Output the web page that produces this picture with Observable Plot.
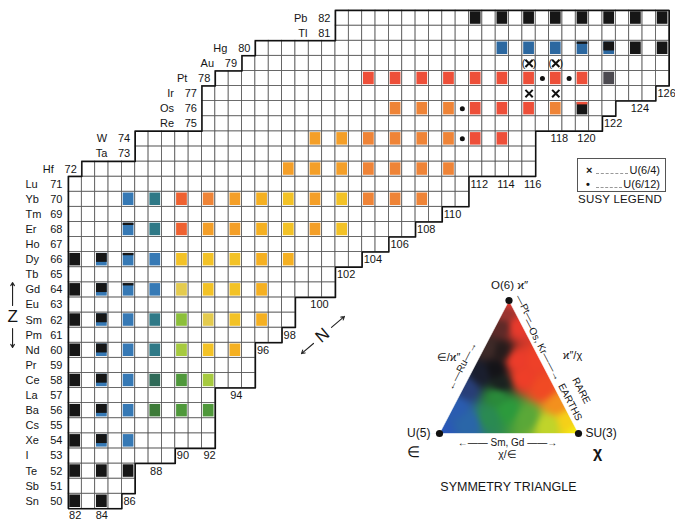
<!DOCTYPE html>
<html><head><meta charset="utf-8">
<script src="https://cdn.jsdelivr.net/npm/d3@7"></script>
<script src="https://cdn.jsdelivr.net/npm/@observablehq/plot@0.6"></script>
<style>
body{margin:0;background:#fff;font-family:"Liberation Sans",Arial,sans-serif;color:#151515;}
#wrap{position:relative;width:675px;height:521px;overflow:hidden;background:#fff;}
#wrap svg{position:absolute;}
.legend{position:absolute;left:577px;top:158px;width:89px;height:34px;border:1px solid #555;box-sizing:border-box;font-size:11px;padding:5px 5px 0 8px;line-height:13.5px;}
.lrow{display:flex;align-items:baseline;}
.lsym{font-weight:bold;width:7px;}
.lead{flex:1;border-bottom:1px dashed #999;margin:0 1px 0 3px;height:7px;}
.ltitle{position:absolute;left:560px;top:193px;width:120px;text-align:center;font-size:11.5px;letter-spacing:0.2px;}
</style>
</head><body><div id="wrap"></div>
<script>
// ---- data ----
const protonNumbers = [50,51,52,53,54,55,56,57,58,59,60,61,62,63,64,65,66,67,68,69,70,71,72,73,74,75,76,77,78,79,80,81,82];
const elementSymbols = ["Sn","Sb","Te","I","Xe","Cs","Ba","La","Ce","Pr","Nd","Pm","Sm","Eu","Gd","Tb","Dy","Ho","Er","Tm","Yb","Lu","Hf","Ta","W","Re","Os","Ir","Pt","Au","Hg","Tl","Pb"];
const rowFirstN = [82,82,82,82,82,82,82,82,82,82,82,82,82,82,82,82,82,82,82,82,82,82,83,87,87,92,92,92,93,95,96,102,102];
const rowLastN  = [85,86,86,89,92,92,92,92,95,95,95,97,98,98,101,101,103,105,107,109,111,111,116,116,116,121,122,125,126,126,126,126,126];
const stepLabelsN = [86,88,90,92,94,96,98,100,102,104,106,108,110,112,114,116,118,120,122,124,126];
const stepLabelsZ = [50,52,53,53,57,60,61,63,65,66,67,68,69,71,71,71,74,74,75,76,77];
const bottomLabelsN = [82,84];
// [Z, N, symmetry class]
const evenEvenCells = [
 [50,82,"k"],[50,84,"k"],
 [52,82,"k"],[52,84,"k"],[52,86,"k"],
 [54,82,"k"],[54,84,"kb"],[54,86,"B"],
 [56,82,"k"],[56,84,"kb"],[56,86,"B"],[56,88,"G"],[56,90,"g"],[56,92,"g"],
 [58,82,"k"],[58,84,"kb"],[58,86,"B"],[58,88,"Tg"],[58,90,"g"],[58,92,"L"],
 [60,82,"k"],[60,84,"kb"],[60,86,"B"],[60,88,"T"],[60,90,"L"],[60,92,"Y"],[60,94,"y"],
 [62,82,"k"],[62,84,"kb"],[62,86,"B"],[62,88,"T"],[62,90,"Lg"],[62,92,"Yp"],[62,94,"Y"],[62,96,"y"],
 [64,82,"k"],[64,84,"kb"],[64,86,"bk"],[64,88,"B"],[64,90,"Yp"],[64,92,"Y"],[64,94,"Y"],[64,96,"y"],
 [66,82,"k"],[66,84,"kb"],[66,86,"bk"],[66,88,"B"],[66,90,"Y"],[66,92,"Y"],[66,94,"Y"],[66,96,"y"],[66,98,"y"],
 [68,86,"bk"],[68,88,"T"],[68,90,"r"],[68,92,"O"],[68,94,"O"],[68,96,"y"],[68,98,"Y"],[68,100,"O"],[68,102,"Y"],
 [70,86,"B"],[70,88,"T"],[70,90,"r"],[70,92,"o"],[70,94,"O"],[70,96,"y"],[70,98,"Y"],[70,100,"O"],[70,102,"Y"],[70,104,"o"],[70,106,"o"],[70,108,"o"],
 [72,98,"O"],[72,100,"O"],[72,102,"O"],[72,104,"o"],[72,106,"o"],[72,108,"o"],[72,110,"o"],
 [74,100,"O"],[74,102,"O"],[74,104,"o"],[74,106,"o"],[74,108,"o"],[74,110,"o"],[74,112,"R"],[74,114,"R"],
 [76,106,"o"],[76,108,"o"],[76,110,"o"],[76,112,"R"],[76,114,"R"],[76,116,"R"],[76,118,"o"],[76,120,"rk"],
 [78,104,"R"],[78,106,"R"],[78,108,"R"],[78,110,"R"],[78,112,"R"],[78,114,"R"],[78,116,"R"],[78,118,"R"],[78,120,"R"],[78,122,"D"],
 [80,114,"Bd"],[80,116,"Bd"],[80,118,"Bd"],[80,120,"Bk"],[80,122,"kB"],[80,124,"k"],[80,126,"k"],
 [82,112,"k"],[82,114,"k"],[82,116,"k"],[82,118,"k"],[82,120,"k"],[82,122,"k"],[82,124,"k"],[82,126,"k"]
];
const susyDots = [[76,111],[74,111],[78,117],[78,119]];            // U(6/12)
const susyCrosses = [[77,116],[77,118]];                              // U(6/4)
const susyCrossesParen = [[79,116],[79,118]];
const susyLegend = [{symbol:"×", label:"U(6/4)"},{symbol:"•", label:"U(6/12)"}];

// ---- styles ----
const FONT = "'Liberation Sans', Arial, sans-serif";
const palette = {k:"#161616",B:"#3679b5",Bd:"#2c68a0",T:"#2f7987",Tg:"#2f6a58",G:"#3d7b38",g:"#4f983b",
  L:"#a6ca3f",Lg:"#8cbf3a",Yp:"#e4cb4e",Y:"#f3c226",y:"#f5b021",O:"#f49f28",o:"#ef8437",r:"#ef6130",
  R:"#ee4f39",D:"#4c4a50"};
const splitClasses = {kb:["B","k",0.68], bk:["B","k",0.24], Bk:["Bd","k",0.24], kB:["Bd","k",0.68], rk:["k","R",0.25]};

// ---- derived ----
const rows = protonNumbers.map((z,i)=>({z, sym:elementSymbols[i], first:rowFirstN[i], last:rowLastN[i]}));
const gridCells = rows.flatMap(r => d3.range(r.first, r.last+1).map(n => ({z:r.z, n})));
const outline = [];
rows.forEach(r => { outline.push([r.first, r.z], [r.first, r.z+1]); });
rows.slice().reverse().forEach(r => { outline.push([r.last+1, r.z+1], [r.last+1, r.z]); });
outline.push(outline[0]);
const cells = evenEvenCells.map(([z,n,c]) => ({z,n,c}));
const solid = cells.map(d => ({...d, color: palette[splitClasses[d.c] ? splitClasses[d.c][0] : d.c]}));
const tops = cells.filter(d => splitClasses[d.c]).map(d => ({...d, color: palette[splitClasses[d.c][1]], frac: splitClasses[d.c][2]}));
const baseRows = rows.filter(r => r.first === 82);
const upperRows = rows.filter(r => r.first > 82);
const stepLabels = stepLabelsN.map((n,i) => ({n, z: stepLabelsZ[i]}));

const main = Plot.plot({
  width: 675, height: 521,
  marginLeft: 68, marginRight: 6.25, marginTop: 10, marginBottom: 12.7,
  x: {domain: [82, 127], axis: null},
  y: {domain: [50, 83], axis: null},
  color: {type: "identity"},
  style: {fontFamily: FONT, fontSize: "11px", color: "#151515", background: "transparent"},
  marks: [
    Plot.rect(gridCells, {x1: "n", x2: d => d.n+1, y1: "z", y2: d => d.z+1, fill: "white", stroke: "#555", strokeWidth: 0.8}),
    Plot.rect(solid, {x1: "n", x2: d => d.n+1, y1: "z", y2: d => d.z+1, fill: "color", inset: 1.3}),
    Plot.rect(tops, {x1: "n", x2: d => d.n+1, y1: d => d.z+1-d.frac, y2: d => d.z+1, fill: "color", insetLeft: 1.3, insetRight: 1.3, insetTop: 1.3}),
    Plot.line(outline, {x: d => d[0], y: d => d[1], stroke: "#111", strokeWidth: 1.5}),
    Plot.text(baseRows, {x: "first", y: d => d.z+0.5, text: "sym", textAnchor: "start", dx: -43}),
    Plot.text(baseRows, {x: "first", y: d => d.z+0.5, text: d => String(d.z), textAnchor: "end", dx: -6}),
    Plot.text(upperRows, {x: "first", y: d => d.z+0.5, text: "sym", textAnchor: "end", dx: -28}),
    Plot.text(upperRows, {x: "first", y: d => d.z+0.5, text: d => String(d.z), textAnchor: "end", dx: -5}),
    Plot.text(stepLabels, {x: "n", y: d => d.z+0.5, text: d => String(d.n), textAnchor: "start", dx: 1.5}),
    Plot.text(bottomLabelsN, {x: d => d+0.5, y: () => 49.56, text: d => String(d)}),
    Plot.dot(susyDots, {x: d => d[1]+0.5, y: d => d[0]+0.5, r: 2.5, fill: "#111"}),
    Plot.dot(susyCrosses.concat(susyCrossesParen), {x: d => d[1]+0.5, y: d => d[0]+0.5, symbol: "times", r: 3.4, stroke: "#111", strokeWidth: 2}),
    Plot.text(susyCrossesParen, {x: d => d[1]+0.5, y: d => d[0]+0.5, text: () => "(", dx: -5.5, fontSize: 11}),
    Plot.text(susyCrossesParen, {x: d => d[1]+0.5, y: d => d[0]+0.5, text: () => ")", dx: 5.5, fontSize: 11}),
    // Z axis annotation
    Plot.arrow([{x1:77.81,y1:63.46,x2:77.81,y2:64.99},{x1:77.81,y1:61.94,x2:77.81,y2:60.68}], {x1:"x1",y1:"y1",x2:"x2",y2:"y2", headLength: 5, strokeWidth: 1.1, stroke: "#222"}),
    Plot.text(["Z"], {x: () => 77.81, y: () => 62.7, text: d => d, fontSize: 17}),
    // N axis annotation
    Plot.arrow([{x1:101.70,y1:62.01,x2:102.67,y2:62.74},{x1:100.35,y1:60.95,x2:99.45,y2:60.28}], {x1:"x1",y1:"y1",x2:"x2",y2:"y2", headLength: 5, strokeWidth: 1.1, stroke: "#222"}),
    Plot.text(["N"], {x: () => 101.03, y: () => 61.48, text: d => d, fontSize: 17, rotate: -40})
  ]
});
main.style.left = "0px"; main.style.top = "0px";
document.getElementById("wrap").appendChild(main);

// ---- symmetry triangle ----
const triVertices = [{name:"U(5)",x:0,y:0},{name:"SU(3)",x:1,y:0},{name:"O(6)",x:0.5,y:1}];
const triStops = [
 // red (O(6) side)
 [0.50,1.00,"#e33a30"],[0.56,0.80,"#e83a2c"],[0.56,0.55,"#ec3c2a"],[0.60,0.42,"#ee3e28"],
 [0.70,0.55,"#ee4028"],[0.75,0.34,"#f04a24"],
 // orange / yellow (SU(3) side)
 [0.85,0.22,"#f3901e"],[0.92,0.10,"#f5d018"],[1.00,0.00,"#f6ec12"],[0.78,0.06,"#c0d42a"],
 // green
 [0.63,0.12,"#5aa838"],[0.49,0.18,"#2c9a3c"],[0.42,0.28,"#2a8a3a"],[0.35,0.12,"#2a8a52"],
 // blue (U(5) side)
 [0.22,0.08,"#2a66a8"],[0.00,0.00,"#2a58b8"],[0.12,0.20,"#2a5cb0"],[0.19,0.34,"#283e78"],
 // dark
 [0.30,0.45,"#1a1e2e"],[0.40,0.48,"#141418"],[0.44,0.37,"#1a2220"],[0.44,0.62,"#261c1c"],
 [0.36,0.64,"#3e2a28"],[0.45,0.80,"#5e2a28"],[0.47,0.90,"#9a3430"]
].map(([x,y,c]) => ({x, y, c: d3.rgb(c)}));
function triColor(x, y) {
  let ws = 0, r = 0, g = 0, b = 0;
  for (const s of triStops) {
    const d2 = (x-s.x)**2 + (y-s.y)**2 + 1e-8;
    const w = 1 / Math.pow(d2, 2.4);
    ws += w; r += w*s.c.r; g += w*s.c.g; b += w*s.c.b;
  }
  return `rgb(${Math.round(r/ws)},${Math.round(g/ws)},${Math.round(b/ws)})`;
}
const triMask = [
  {id:0,x:-0.15,y:0},{id:0,x:0,y:0},{id:0,x:0.5,y:1},{id:0,x:0.5,y:1.1},{id:0,x:-0.15,y:1.1},
  {id:1,x:1.15,y:0},{id:1,x:1,y:0},{id:1,x:0.5,y:1},{id:1,x:0.5,y:1.1},{id:1,x:1.15,y:1.1},
  {id:2,x:-0.15,y:0},{id:2,x:1.15,y:0},{id:2,x:1.15,y:-0.15},{id:2,x:-0.15,y:-0.15}
];
const triLabels = [
  {text:"O(6) ϰ″", x:0.504, y:1.113, size:11.5, anchor:"middle", rotate:0},
  {text:"U(5)", x:-0.065, y:0.0, size:12, anchor:"end", rotate:0},
  {text:"∈", x:-0.187, y:-0.143, size:15, anchor:"middle", rotate:0},
  {text:"SU(3)", x:1.05, y:0.0, size:12, anchor:"start", rotate:0},
  {text:"χ", x:1.137, y:-0.143, size:16, anchor:"middle", rotate:0, bold:true},
  {text:"←—— Sm, Gd ——→", x:0.489, y:-0.07, size:10, anchor:"middle", rotate:0},
  {text:"χ/∈", x:0.489, y:-0.158, size:10.5, anchor:"middle", rotate:0},
  {text:"∈/ϰ″", x:0.065, y:0.571, size:11, anchor:"middle", rotate:0},
  {text:"ϰ″/χ", x:0.957, y:0.586, size:11, anchor:"middle", rotate:0},
  {text:"←—Ru—→", x:0.162, y:0.507, size:10, anchor:"middle", rotate:-62.6},
  {text:"—Pt—", x:0.615, y:0.939, size:10, anchor:"middle", rotate:62.6},
  {text:"—Os, Kr——→", x:0.741, y:0.631, size:10, anchor:"middle", rotate:62.6},
  {text:"RARE", x:1.02, y:0.322, size:10, anchor:"middle", rotate:62.6},
  {text:"EARTHS", x:0.94, y:0.236, size:10, anchor:"middle", rotate:62.6},
  {text:"SYMMETRY TRIANGLE", x:0.496, y:-0.406, size:12.5, anchor:"middle", rotate:0}
];
const tri = Plot.plot({
  width: 295, height: 251, marginLeft: 59, marginRight: 97, marginTop: 30, marginBottom: 88,
  x: {domain: [0, 1], axis: null}, y: {domain: [0, 1], axis: null},
  color: {type: "identity"},
  style: {fontFamily: FONT, fontSize: "11px", color: "#151515", background: "transparent", overflow: "visible"},
  marks: [
    Plot.raster({x1: -0.08, y1: -0.08, x2: 1.08, y2: 1.04, fill: (x, y) => triColor(Math.max(0, Math.min(1, x)), Math.max(0, Math.min(1, y)))}),
    Plot.line(triMask, {x: "x", y: "y", z: "id", fill: "white", stroke: "white", strokeWidth: 0.6}),
    Plot.dot(triVertices, {x: "x", y: "y", r: 3.6, fill: "#111"}),
    ...triLabels.map(d => Plot.text([d], {x: "x", y: "y", text: "text", fontSize: d.size, textAnchor: d.anchor, rotate: d.rotate, fontWeight: d.bold ? "bold" : "normal"}))
  ]
});
tri.style.left = "380px"; tri.style.top = "270px";
const img = tri.querySelector("image");
if (img) img.style.filter = "blur(2.5px)";
document.getElementById("wrap").appendChild(tri);

// ---- SUSY legend ----
const lg = document.createElement("div");
lg.className = "legend";
susyLegend.forEach(e => {
  const row = document.createElement("div"); row.className = "lrow";
  const s = document.createElement("span"); s.className = "lsym"; s.textContent = e.symbol;
  const l = document.createElement("span"); l.className = "lead";
  const t = document.createElement("span"); t.textContent = e.label;
  row.append(s, l, t); lg.appendChild(row);
});
document.getElementById("wrap").appendChild(lg);
const lt = document.createElement("div"); lt.className = "ltitle"; lt.textContent = "SUSY LEGEND";
document.getElementById("wrap").appendChild(lt);
</script></body></html>
